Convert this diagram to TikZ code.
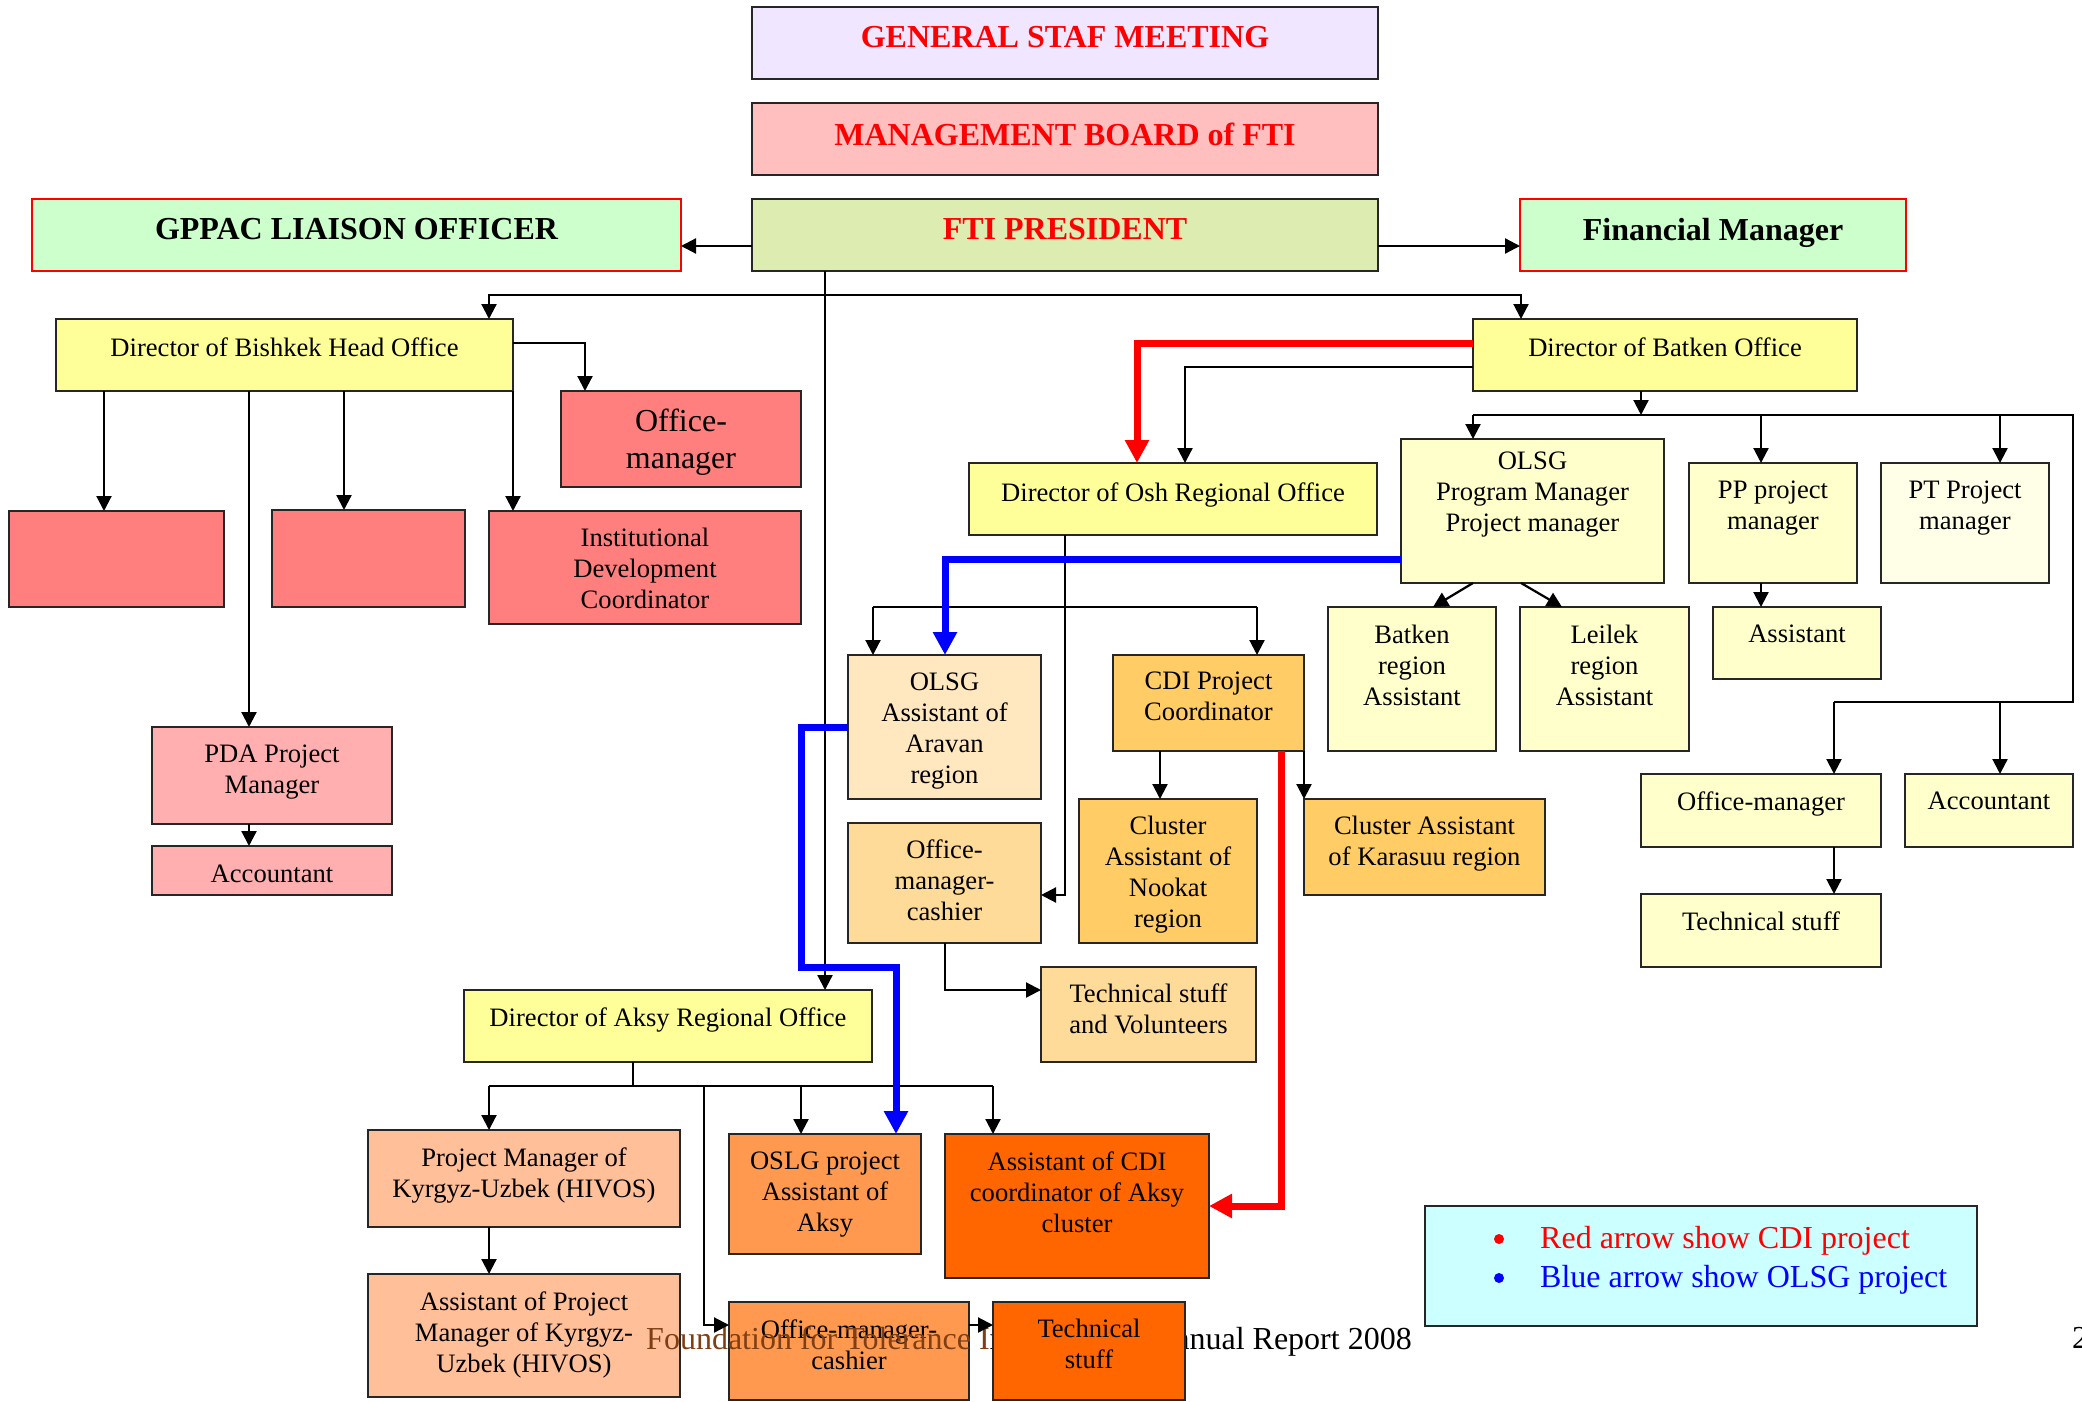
\documentclass[tikz,border=0pt]{standalone}
\usepackage{fontspec}
\setmainfont{Liberation Serif}
\usetikzlibrary{arrows.meta}
\definecolor{cLav}{HTML}{F0E6FF}
\definecolor{cPink}{HTML}{FFBFBF}
\definecolor{cPres}{HTML}{DDECB1}
\definecolor{cGreen}{HTML}{CCFFCC}
\definecolor{cYel}{HTML}{FFFF99}
\definecolor{cSalm}{HTML}{FF7F7F}
\definecolor{cPda}{HTML}{FFAFAF}
\definecolor{cCream}{HTML}{FFFFCC}
\definecolor{cCreamB}{HTML}{FFFFE8}
\definecolor{cPeach}{HTML}{FFE7BF}
\definecolor{cApr}{HTML}{FFDB99}
\definecolor{cGold}{HTML}{FFCC66}
\definecolor{cHiv}{HTML}{FFBF99}
\definecolor{cOr}{HTML}{FF9950}
\definecolor{cDeep}{HTML}{FF6600}
\definecolor{cCyan}{HTML}{CCFFFF}
\definecolor{cBrown}{HTML}{7F3F14}
\newcommand\orgTitle{\fontsize{32}{37}\selectfont\bfseries}
\newcommand\orgBig{\fontsize{32}{37}\selectfont}
\tikzset{
  box/.style={draw=black!85, line width=2pt, inner sep=0pt, outer sep=0pt},
  redbox/.style={draw=red, line width=2pt, inner sep=0pt, outer sep=0pt},
  txt/.style={inner sep=0pt, outer sep=0pt, align=center, font=\fontsize{26.6}{31}\selectfont},
  arr/.style={draw=black, line width=2.2pt, -{Triangle[length=15pt,width=15pt]}},
  plain/.style={draw=black, line width=2.2pt},
  redarr/.style={draw=red, line width=7pt, -{Triangle[length=23pt,width=23pt]}},
  bluearr/.style={draw=blue, line width=7pt, -{Triangle[length=23pt,width=23pt]}},
}
% #1 name, #2 box style, #3 x1, #4 y1, #5 x2, #6 y2, #7 text offset, #8 text
\newcommand\orgbox[8]{%
  \node[#2, anchor=north west, minimum width={(#5)-(#3)}, minimum height={(#6)-(#4)}] (#1) at (#3,#4) {};
  \node[txt, anchor=north] (#1-t) at ([yshift=-#7pt]#1.north) {#8};
}
\begin{document}
\begin{tikzpicture}[x=1pt,y=-1pt]
\useasboundingbox (0,0) rectangle (2082,1402);
\fill[white] (0,0) rectangle (2082,1402);

% top
\orgbox{gsm}{box,fill=cLav}{752}{7}{1378}{79}{19.5}{\orgTitle\color{red}GENERAL STAF MEETING}
\orgbox{mb}{box,fill=cPink}{752}{103}{1378}{175}{19.5}{\orgTitle\color{red}MANAGEMENT BOARD of FTI}
\orgbox{pres}{box,fill=cPres}{752}{199}{1378}{271}{19.5}{\orgTitle\color{red}FTI PRESIDENT}
\orgbox{gppac}{redbox,fill=cGreen}{32}{199}{681}{271}{19.5}{\orgTitle GPPAC LIAISON OFFICER}
\orgbox{fin}{redbox,fill=cGreen}{1520}{199}{1906}{271}{19.5}{\orgTitle Financial Manager}

% Bishkek
\orgbox{bish}{box,fill=cYel}{56}{319}{513}{391}{18.5}{Director of Bishkek Head Office}
\orgbox{bom}{box,fill=cSalm}{561}{391}{801}{487}{18}{\orgBig Office-\\[6pt]\orgBig manager}
\node[box,fill=cSalm,anchor=north west,minimum width=215,minimum height=96] (blank1) at (9,511) {};
\node[box,fill=cSalm,anchor=north west,minimum width=193,minimum height=97] (blank2) at (272,510) {};
\orgbox{idc}{box,fill=cSalm}{489}{511}{801}{624}{17.5}{Institutional\\Development\\Coordinator}
\orgbox{pda}{box,fill=cPda}{152}{727}{392}{824}{17.5}{PDA Project\\Manager}
\orgbox{pdaacc}{box,fill=cPda}{152}{846}{392}{895}{18.5}{Accountant}

% Batken
\orgbox{batk}{box,fill=cYel}{1473}{319}{1857}{391}{18.5}{Director of Batken Office}
\orgbox{osh}{box,fill=cYel}{969}{463}{1377}{535}{19.5}{Director of Osh Regional Office}
\orgbox{olsgpm}{box,fill=cCream}{1401}{439}{1664}{583}{12.5}{OLSG\\Program Manager\\Project manager}
\orgbox{pp}{box,fill=cCream}{1689}{463}{1857}{583}{17.5}{PP project\\manager}
\orgbox{pt}{box,fill=cCreamB}{1881}{463}{2049}{583}{17.5}{PT Project\\manager}
\orgbox{batas}{box,fill=cCream}{1328}{607}{1496}{751}{18.5}{Batken\\region\\Assistant}
\orgbox{leilek}{box,fill=cCream}{1520}{607}{1689}{751}{18.5}{Leilek\\region\\Assistant}
\orgbox{ppas}{box,fill=cCream}{1713}{607}{1881}{679}{17.5}{Assistant}
\orgbox{bom2}{box,fill=cCream}{1641}{774}{1881}{847}{17.5}{Office-manager}
\orgbox{bacc}{box,fill=cCream}{1905}{774}{2073}{847}{17.5}{Accountant}
\orgbox{btech}{box,fill=cCream}{1641}{894}{1881}{967}{17.5}{Technical stuff}

% Osh
\orgbox{arav}{box,fill=cPeach}{848}{655}{1041}{799}{17.5}{OLSG\\Assistant of\\Aravan\\region}
\orgbox{omc}{box,fill=cApr}{848}{823}{1041}{943}{17}{Office-\\manager-\\cashier}
\orgbox{tsv}{box,fill=cApr}{1041}{967}{1256}{1062}{17}{Technical stuff\\and Volunteers}
\orgbox{cdi}{box,fill=cGold}{1113}{655}{1304}{751}{16.5}{CDI Project\\Coordinator}
\orgbox{nook}{box,fill=cGold}{1079}{799}{1257}{943}{17.5}{Cluster\\Assistant of\\Nookat\\region}
\orgbox{kara}{box,fill=cGold}{1304}{799}{1545}{895}{17.5}{Cluster Assistant\\of Karasuu region}

% Aksy
\orgbox{aksy}{box,fill=cYel}{464}{990}{872}{1062}{17.5}{Director of Aksy Regional Office}
\orgbox{hivos}{box,fill=cHiv}{368}{1130}{680}{1227}{17.5}{Project Manager of\\Kyrgyz-Uzbek (HIVOS)}
\orgbox{hivas}{box,fill=cHiv}{368}{1274}{680}{1397}{17.5}{Assistant of Project\\Manager of Kyrgyz-\\Uzbek (HIVOS)}
\orgbox{oslg}{box,fill=cOr}{729}{1134}{921}{1254}{17.5}{OSLG project\\Assistant of\\Aksy}
\orgbox{acdi}{box,fill=cDeep}{945}{1134}{1209}{1278}{17.5}{Assistant of CDI\\coordinator of Aksy\\cluster}
\orgbox{omc2}{box,fill=cOr}{729}{1302}{969}{1400}{17.5}{Office-manager-\\cashier}

% footer (between the two bottom boxes)
\node[inner sep=0pt, anchor=base west, font=\fontsize{32}{37}\selectfont] (foot) at (646,1349)
  {{\color{cBrown}Foundation for Tolerance I}nternational Annual Report 2008};
\orgbox{ats}{box,fill=cDeep}{993}{1302}{1185}{1400}{17.5}{Technical\\stuff}
\node[inner sep=0pt, anchor=base west, font=\fontsize{32}{37}\selectfont] (pgno) at (2072,1348) {2};

% legend
\node[box,fill=cCyan,anchor=north west,minimum width=552,minimum height=120] (leg) at (1425,1206) {};
\fill[red] (1499,1239) circle (5);
\fill[blue] (1499,1278) circle (5);
\node[inner sep=0pt, anchor=base west, font=\fontsize{32}{37}\selectfont, text=red] (leg-r) at (1540,1248) {Red arrow show CDI project};
\node[inner sep=0pt, anchor=base west, font=\fontsize{32}{37}\selectfont, text=blue] (leg-b) at (1540,1287) {Blue arrow show OLSG project};

% ---- connectors ----
\draw[arr] ([yshift=-11pt]pres.west) -- ([yshift=-11pt]gppac.east);
\draw[arr] ([yshift=-11pt]pres.east) -- ([yshift=-11pt]fin.west);
\draw[arr] (825,0 |- pres.south) -- (825,0 |- aksy.north);
\coordinate (hub) at (825,295);
\draw[arr] (hub) -| (489,0 |- bish.north);
\draw[arr] (hub) -| (1521,0 |- batk.north);

\draw[arr] (bish.east |- 0,343) -| (585,0 |- bom.north);
\draw[arr] (104,0 |- bish.south) -- (104,0 |- blank1.north);
\draw[arr] (344,0 |- bish.south) -- (344,0 |- blank2.north);
\draw[arr] (bish.south east) -- (bish.south east |- idc.north);
\draw[arr] (249,0 |- bish.south) -- (249,0 |- pda.north);
\draw[arr] (249,0 |- pda.south) -- (249,0 |- pdaacc.north);

\draw[arr] (batk.west |- 0,367) -| (1185,0 |- osh.north);
\draw[arr] (1641,0 |- batk.south) -- (1641,415);
\coordinate (bline) at (1473,415);
\draw[plain] (bline) -- (2073,415) -- (2073,702) -- (1834,702);
\draw[arr] (bline) -- (1473,0 |- olsgpm.north);
\draw[arr] (1761,415) -- (1761,0 |- pp.north);
\draw[arr] (2000,415) -- (2000,0 |- pt.north);
\draw[arr] (1834,702) -- (1834,0 |- bom2.north);
\draw[arr] (2000,702) -- (2000,0 |- bacc.north);
\draw[arr] (1473,0 |- olsgpm.south) -- (1433,0 |- batas.north);
\draw[arr] (1521,0 |- olsgpm.south) -- (1562,0 |- leilek.north);
\draw[arr] (1761,0 |- pp.south) -- (1761,0 |- ppas.north);
\draw[arr] (1834,0 |- bom2.south) -- (1834,0 |- btech.north);

\draw[arr] (1065,0 |- osh.south) |- (omc.east |- 0,895);
\draw[plain] (873,607) -- (1257,607);
\draw[arr] (873,607) -- (873,0 |- arav.north);
\draw[arr] (1257,607) -- (1257,0 |- cdi.north);
\draw[arr] (945,0 |- omc.south) |- (tsv.west |- 0,990);
\draw[arr] (1160,0 |- cdi.south) -- (1160,0 |- nook.north);
\draw[arr] (cdi.south east) -- (cdi.south east |- kara.north);

\draw[plain] (633,0 |- aksy.south) -- (633,1086);
\draw[plain] (489,1086) -- (993,1086);
\draw[arr] (489,1086) -- (489,0 |- hivos.north);
\draw[arr] (801,1086) -- (801,0 |- oslg.north);
\draw[arr] (993,1086) -- (993,0 |- acdi.north);
\draw[arr] (704,1086) |- (omc2.west |- 0,1325);
\draw[arr] (489,0 |- hivos.south) -- (489,0 |- hivas.north);
\draw[arr] (omc2.east |- 0,1325) -- (ats.west |- 0,1325);

% project arrows
\draw[redarr] (batk.west |- 0,343) -| (1137,0 |- osh.north);
\draw[redarr] (1281,0 |- cdi.south) |- (acdi.east |- 0,1206);
\draw[bluearr] (olsgpm.west |- 0,559) -| (945,0 |- arav.north);
\draw[bluearr] (arav.west |- 0,727) -| (801,967) -| (896,0 |- oslg.north);
\end{tikzpicture}
\end{document}
